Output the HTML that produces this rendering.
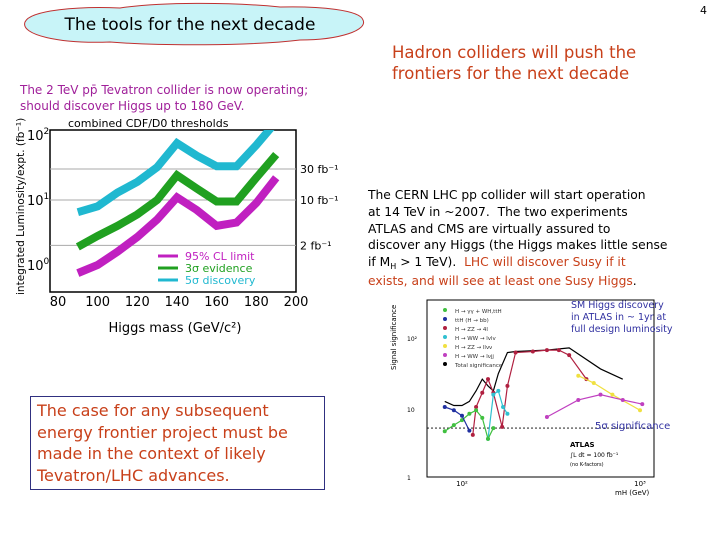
<!DOCTYPE html>
<html><head><meta charset="utf-8"><style>
body{margin:0;width:720px;height:540px;background:#fff;position:relative;overflow:hidden;font-family:"DejaVu Sans","Liberation Sans",sans-serif}
.t{position:absolute;white-space:nowrap}
</style></head><body>
<svg style="position:absolute;left:0;top:0" width="380" height="50">
<path d="M25,22 C30,10 80,6 120,8 C160,2 230,2 280,7 C320,6 360,10 363,20 C368,30 340,40 300,40 C250,46 160,46 110,42 C60,44 20,35 25,22 Z" fill="#c8f4f8" stroke="#c03030" stroke-width="1"/>
<text x="190" y="30" text-anchor="middle" font-family="DejaVu Sans, sans-serif" font-size="17" fill="#000">The tools for the next decade</text>
</svg>
<div class="t" style="left:700px;top:4px;font-size:11px">4</div>
<div class="t" style="left:20px;top:82px;font-size:12px;line-height:16px;color:#a0209a">The 2 TeV pp̄ Tevatron collider is now operating;<br>should discover Higgs up to 180 GeV.</div>
<div class="t" style="left:392px;top:42px;font-size:16.5px;line-height:21px;color:#c8401a">Hadron colliders will push the<br>frontiers for the next decade</div>
<div class="t" style="left:368px;top:187px;font-size:12.3px;line-height:16.8px;color:#000">The CERN LHC pp collider will start operation<br>at 14 TeV in ~2007.&nbsp; The two experiments<br>ATLAS and CMS are virtually assured to<br>discover any Higgs (the Higgs makes little sense<br>if M<span style="font-size:8px;position:relative;top:3px">H</span> &gt; 1 TeV).&nbsp; <span style="color:#c8401a">LHC will discover Susy if it<br>exists, and will see at least one Susy Higgs</span>.</div>
<div style="position:absolute;left:30px;top:396px;width:293px;height:92px;border:1.5px solid #303080"></div>
<div class="t" style="left:37px;top:400px;font-size:16px;line-height:21.5px;color:#c8401a">The case for any subsequent<br>energy frontier project must be<br>made in the context of likely<br>Tevatron/LHC advances.</div>

<svg id="left" style="position:absolute;left:0;top:110px" width="340" height="230"></svg>
<svg id="right" style="position:absolute;left:385px;top:290px" width="330" height="245"></svg>
<script>
const NS="http://www.w3.org/2000/svg";
function mk(p,t,a){const e=document.createElementNS(NS,t);for(const k in a)e.setAttribute(k,a[k]);p.appendChild(e);return e;}
// ---- Left chart data ----
const massL=[90,100,110,120,130,140,150,160,170,180,190];
const limit95=[0.75,1.0,1.6,2.7,5,11,7,4,4.5,9,22];
const evidence3=[1.9,2.8,4,6,10,24,15,9.5,9.5,22,50];
const discovery5=[6.5,8,13,19,32,75,48,33,33,70,160];
const xTicksL=[80,100,120,140,160,180,200];
const lumiLines=[30,10,2];
const lumiLabels=["30 fb⁻¹","10 fb⁻¹","2 fb⁻¹"];
const L=document.getElementById('left');
const lx=m=>58+(m-80)*(296-58)/120;
const ly=v=>155-Math.log10(v)*65;
mk(L,'rect',{x:50,y:20,width:246,height:162,fill:'none',stroke:'#000','stroke-width':1.5});
let t=mk(L,'text',{x:68,y:17,'font-size':11,fill:'#000'});t.textContent='combined CDF/D0 thresholds';

lumiLines.forEach((v,i)=>{const g=mk(L,'line',{x1:50,x2:296,y1:ly(v),y2:ly(v),stroke:'#aaa','stroke-width':1});

const tx=mk(L,'text',{x:300,y:ly(v)+4,'font-size':11});tx.textContent=lumiLabels[i];
});
xTicksL.forEach(m=>{const tx=mk(L,'text',{x:lx(m),y:196,'font-size':13,'text-anchor':'middle'});tx.textContent=m;
});
[2,1,0].forEach(e=>{const tx=mk(L,'text',{x:27,y:ly(Math.pow(10,e))+5,'font-size':13});tx.innerHTML=`10<tspan dy="-6" font-size="9">${e}</tspan>`;
});
const yt=mk(L,'text',{x:0,y:0,'font-size':10.5,transform:'translate(24,185) rotate(-90)'});yt.textContent='integrated Luminosity/expt. (fb⁻¹)';

const xt=mk(L,'text',{x:175,y:222,'font-size':13,'text-anchor':'middle'});xt.textContent='Higgs mass (GeV/c²)';

const cl=mk(L,'clipPath',{id:'cl'});mk(cl,'rect',{x:50,y:20,width:246,height:162});
[[discovery5,'#20b8d0','discovery-5sigma'],[evidence3,'#20a020','evidence-3sigma'],[limit95,'#c020c0','limit-95cl']].forEach(([s,c,n])=>{
const p=mk(L,'polyline',{points:s.map((v,i)=>lx(massL[i])+','+ly(v)).join(' '),fill:'none',stroke:c,'stroke-width':8,'clip-path':'url(#cl)'});
});
[['95% CL limit','#c020c0',150],['3σ evidence','#20a020',162],['5σ discovery','#20b8d0',174]].forEach(([s,c,y])=>{
const g=mk(L,'line',{x1:158,x2:178,y1:y-4,y2:y-4,stroke:c,'stroke-width':3});
const tx=mk(L,'text',{x:185,y:y,'font-size':11,fill:c});tx.textContent=s;});

// ---- Right chart data ----
const totalM=[80,90,100,110,120,130,140,150,160,180,200,300,400,600,800];
const totalS=[12,10.5,10.5,12,17,25,20,17,30,60,62,65,70,35,25];
const zz4lM=[115,120,130,140,150,168,180,200,250,300,350,400,500];
const zz4lS=[4,10,16,25,16,5.2,20,60,62,65,65,55,25];
const wwM=[140,150,160,170,180];const wwS=[3.5,15,17,10,8];
const ggM=[80,90,100,110,120,130,140,150];const ggS=[4.5,5.5,6.5,8,9,7,3.5,5];
const ttM=[80,90,100,110];const ttS=[10,9,7.5,4.6];
const zzllM=[450,550,700,1000];const zzllS=[28,22,15,9];
const wwjjM=[300,450,600,800,1030];const wwjjS=[7.2,12.6,15,12.6,11];
const R=document.getElementById('right');
const rx=m=>77+(Math.log10(m)-2)*178;
const ry=s=>187-Math.log10(s)*70;
mk(R,'rect',{x:42,y:10,width:227,height:177,fill:'#fff',stroke:'#000','stroke-width':1});
const five=mk(R,'line',{x1:42,x2:269,y1:ry(5),y2:ry(5),stroke:'#000','stroke-dasharray':'2,2','stroke-width':0.8});

[[totalM,totalS,'#000','total-significance',false],[zz4lM,zz4lS,'#b02040','h-zz-4l',true],[wwM,wwS,'#30c0d0','h-ww',true],[ggM,ggS,'#40c040','h-gamma-gamma',true],[ttM,ttS,'#2030a0','tth-bb',true],[zzllM,zzllS,'#f0e040','h-zz-llnn',true],[wwjjM,wwjjS,'#c040c0','h-ww-lvjj',true]].forEach(([m,s,c,n,pts])=>{
const p=mk(R,'polyline',{points:m.map((v,i)=>rx(v)+','+ry(s[i])).join(' '),fill:'none',stroke:c,'stroke-width':1.2});

if(pts)m.forEach((v,i)=>{const d=mk(R,'circle',{cx:rx(v),cy:ry(s[i]),r:2,fill:c});});});
const leg=['H → γγ + WH,ttH','ttH (H → bb)','H → ZZ → 4l','H → WW → lvlv','H → ZZ → llνν','H → WW → lνjj','Total significance'];
const lc=['#40c040','#2030a0','#b02040','#30c0d0','#f0e040','#c040c0','#000'];
leg.forEach((s,i)=>{const y=22+i*9;const d=mk(R,'circle',{cx:60,cy:y-2,r:2,fill:lc[i]});
const tx=mk(R,'text',{x:70,y:y+1,'font-size':5.5,fill:'#333'});tx.textContent=s;});
[['1',187],['10',119],['10²',48]].forEach(([s,y])=>{const tx=mk(R,'text',{x:22,y:y+3,'font-size':6});tx.textContent=s;});
[['10²',77],['10³',255]].forEach(([s,x])=>{const tx=mk(R,'text',{x:x,y:196,'font-size':7,'text-anchor':'middle'});tx.textContent=s;});
const ryt=mk(R,'text',{x:0,y:0,'font-size':7,transform:'translate(11,80) rotate(-90)'});ryt.textContent='Signal significance';

const rxt=mk(R,'text',{x:230,y:205,'font-size':7});rxt.textContent='mH (GeV)';
const at=mk(R,'text',{x:185,y:157,'font-size':7,'font-weight':'bold'});at.textContent='ATLAS';
const at2=mk(R,'text',{x:185,y:167,'font-size':6});at2.textContent='∫L dt = 100 fb⁻¹';
const at3=mk(R,'text',{x:185,y:176,'font-size':5});at3.textContent='(no K-factors)';
const a1=mk(R,'text',{x:186,y:18,'font-size':9.5,fill:'#3030a0'});a1.innerHTML='SM Higgs discovery<tspan x="186" dy="12">in ATLAS in ~ 1yr at</tspan><tspan x="186" dy="12">full design luminosity</tspan>';

const a2=mk(R,'text',{x:210,y:139,'font-size':10,fill:'#3030a0'});a2.textContent='5σ significance';
</script>
</body></html>
